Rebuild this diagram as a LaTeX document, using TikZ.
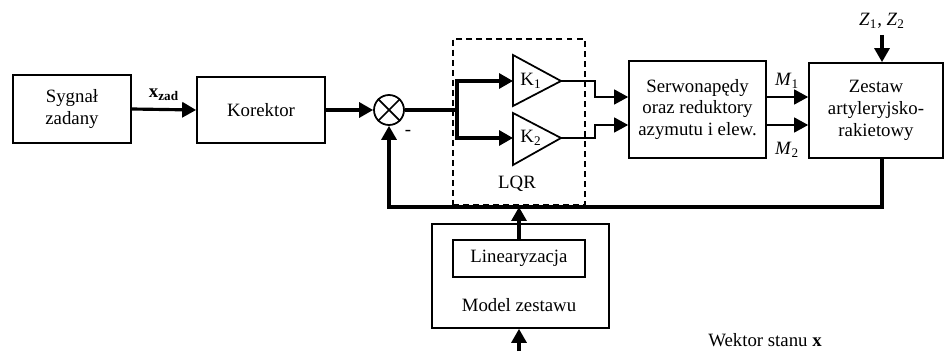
\documentclass[tikz,border=0pt]{standalone}
\usepackage{fontspec}
\setmainfont{Liberation Serif}
\usetikzlibrary{arrows.meta,positioning,calc}

\begin{document}
\begin{tikzpicture}[x=0.02cm, y=-0.02cm, font=\fontsize{10.7}{12.5}\selectfont,
  >={Triangle[length=0.28cm,width=0.3cm]},
  block/.style={draw, line width=1pt, inner sep=0pt, align=center},
  sig/.style={line width=1.8pt},
  wire/.style={line width=0.8pt}]
  \useasboundingbox (0,0) rectangle (945,351);
  %% ── Tor sygnalu zadanego ─────────────────────────────────
  \node[block, minimum width=2.36cm, minimum height=1.36cm] (sygnal) at (72,109) {Sygnał\\zadany};
  \node[block, minimum width=2.56cm, minimum height=1.32cm] (korektor) at (261,110) {Korektor};
  \node[draw, circle, line width=1pt, minimum size=0.6cm, inner sep=0pt] (suma) at (389,110) {};
  \draw[line width=1pt] (suma.45) -- (suma.225) (suma.135) -- (suma.315);
  \node (minus) at (408,133) {-};
  \draw[sig,->] (sygnal.east) -- (korektor.west)
    node[midway, above=1pt] (xzad) {\textbf{x}\textsubscript{\textbf{zad}}};
  \draw[sig,->] (korektor.east) -- (suma.west);

  %% ── Regulator LQR ────────────────────────────────────────
  \node[draw, line width=1pt, dash pattern=on 3.4pt off 2.3pt, minimum width=2.64cm,
    minimum height=3.32cm] (lqr) at (519,122) {};
  \node (lqrtxt) at (517,184) {LQR};
  \coordinate (rozg) at (457,110);
  \draw[line width=1pt] (513,55) -- (561,81) coordinate (k1out) -- (513,106) -- cycle;
  \draw[line width=1pt] (513,113) -- (561,138) coordinate (k2out) -- (513,165) -- cycle;
  \coordinate (k1in) at (513,81);
  \coordinate (k2in) at (513,138);
  \node (k1) at (531,81) {K\textsubscript{1}};
  \node (k2) at (531,138) {K\textsubscript{2}};
  \draw[sig] (suma.east) -- (rozg);
  \draw[sig,->] (rozg) |- (k1in);
  \draw[sig,->] (rozg) |- (k2in);

  %% ── Serwonapedy i zestaw ─────────────────────────────────
  \node[block, minimum width=2.74cm, minimum height=1.94cm] (serwo) at (697.5,109.5)
    {Serwonapędy\\oraz reduktory\\azymutu i elew.};
  \node[block, minimum width=2.68cm, minimum height=1.9cm] (zestaw) at (876,110.5)
    {Zestaw\\artyleryjsko-\\rakietowy};
  \coordinate (p1) at (595,97);
  \coordinate (p2) at (595,125);
  \draw[wire,->] (k1out) -| (p1) -- (serwo.west |- p1);
  \draw[wire,->] (k2out) -| (p2) -- (serwo.west |- p2);
  \draw[wire,->] (serwo.east |- p1) -- (zestaw.west |- p1);
  \draw[wire,->] (serwo.east |- p2) -- (zestaw.west |- p2);
  \node (m1) at (787,81) {\textit{M}\textsubscript{1}};
  \node (m2) at (787,150) {\textit{M}\textsubscript{2}};
  \node (zakl) at (882,21) {\textit{Z}\textsubscript{1}, \textit{Z}\textsubscript{2}};
  \draw[sig,->] (zakl.south) -- (zakl.south |- zestaw.north);

  %% ── Sprzezenie zwrotne ───────────────────────────────────
  \coordinate (fb) at (389,207);
  \draw[sig,->] (zakl.south |- zestaw.south) |- (fb) -- (suma.south);

  %% ── Model zestawu ────────────────────────────────────────
  \node[block, minimum width=3.54cm, minimum height=2.08cm] (model) at (520.5,276) {};
  \node[block, minimum width=2.64cm, minimum height=0.74cm] (lin) at (519,258.5) {Linearyzacja};
  \node (modeltxt) at (519,305) {Model zestawu};
  \draw[sig,->] (lin.north) -- (lin.north |- fb);
  \coordinate (wej) at (519,351);
  \draw[sig,->] (wej) -- (wej |- model.south);
  \node (wektor) at (765,340) {Wektor stanu \textbf{x}};
\end{tikzpicture}
\end{document}
